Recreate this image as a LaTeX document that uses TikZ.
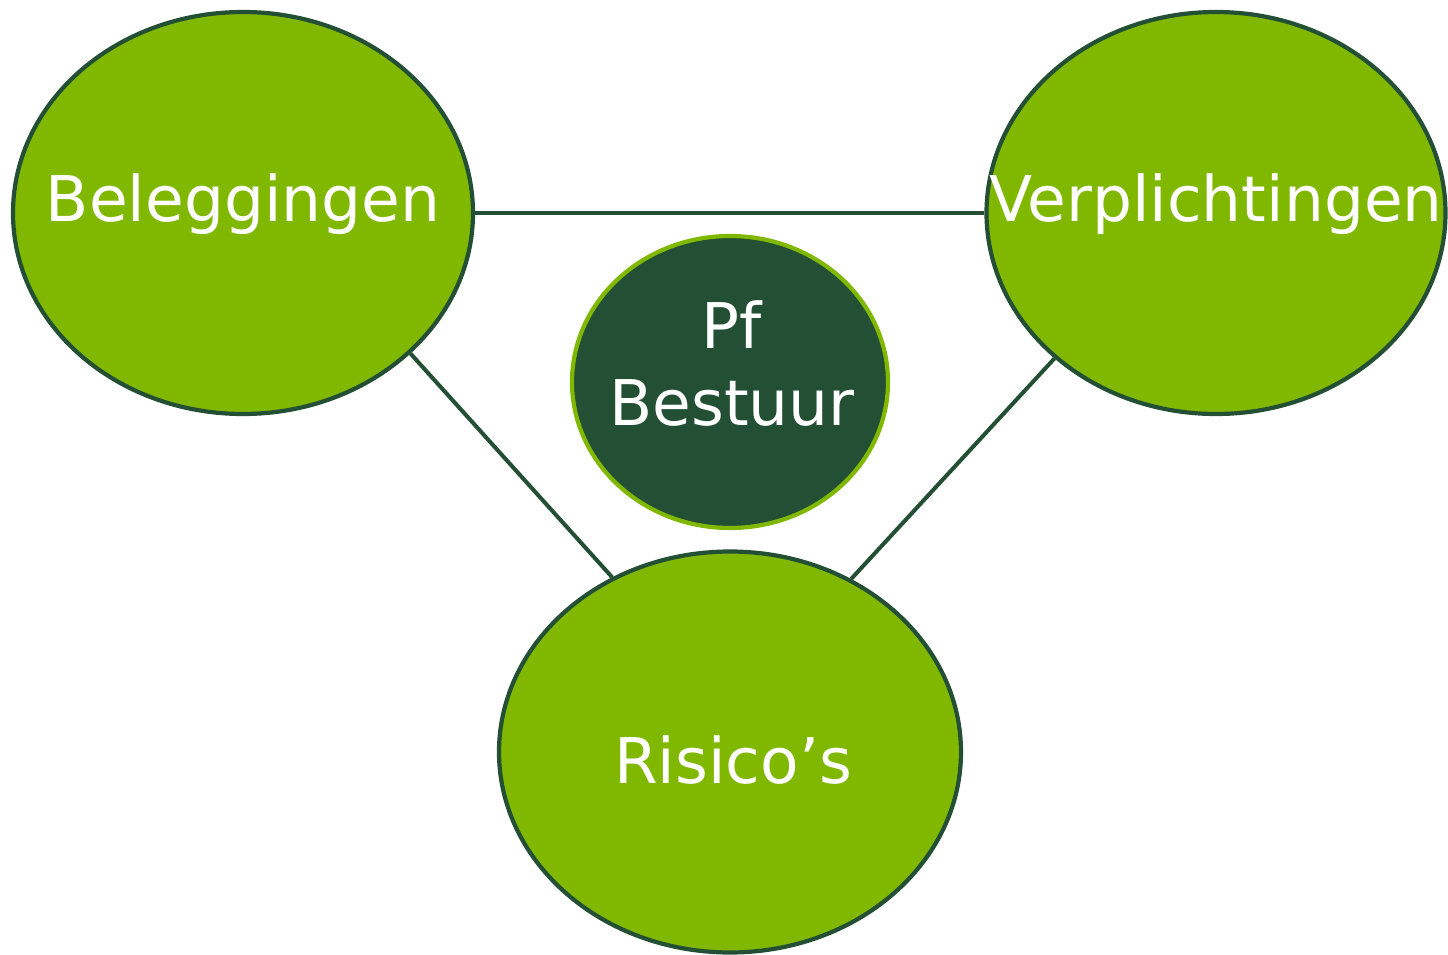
\documentclass[tikz,border=0pt]{standalone}
\usepackage{fontspec}
\setmainfont{DejaVu Sans}
\usetikzlibrary{shapes.geometric}
\definecolor{lgreen}{HTML}{80B800}
\definecolor{dgreen}{HTML}{234F34}
\tikzset{
  bigell/.style={ellipse, draw=dgreen, line width=4.2pt, fill=lgreen, inner sep=0pt},
  lbl/.style={text=white, font=\fontsize{63}{77}\selectfont, anchor=base, inner sep=0pt},
  link/.style={draw=dgreen, line width=4pt}
}
\begin{document}
\begin{tikzpicture}[x=1pt,y=-1pt]
\useasboundingbox (0,0) rectangle (1448,955);
\node[bigell, minimum width=460pt, minimum height=402pt] (bel) at (243,213) {};
\node[bigell, minimum width=459pt, minimum height=402pt] (ver) at (1216,213) {};
\node[bigell, minimum width=462pt, minimum height=401pt] (ris) at (730,752) {};
\node[ellipse, draw=lgreen, line width=4.2pt, fill=dgreen, minimum width=316pt, minimum height=292pt, inner sep=0pt] (pf) at (730,382) {};
\draw[link] (bel) -- (ver);
\draw[link] (bel.-40.4) -- (ris.124.1);
\draw[link] (ver.-138.9) -- (ris.55.9);
\node[lbl] (tbel) at (243,221) {Beleggingen};
\node[lbl] (tver) at (1216,221) {Verplichtingen};
\node[lbl] (tris) at (733,783) {Risico’s};
\node[lbl] (tpf) at (732,348) {Pf};
\node[lbl] (tbes) at (732,425) {Bestuur};
\end{tikzpicture}
\end{document}
